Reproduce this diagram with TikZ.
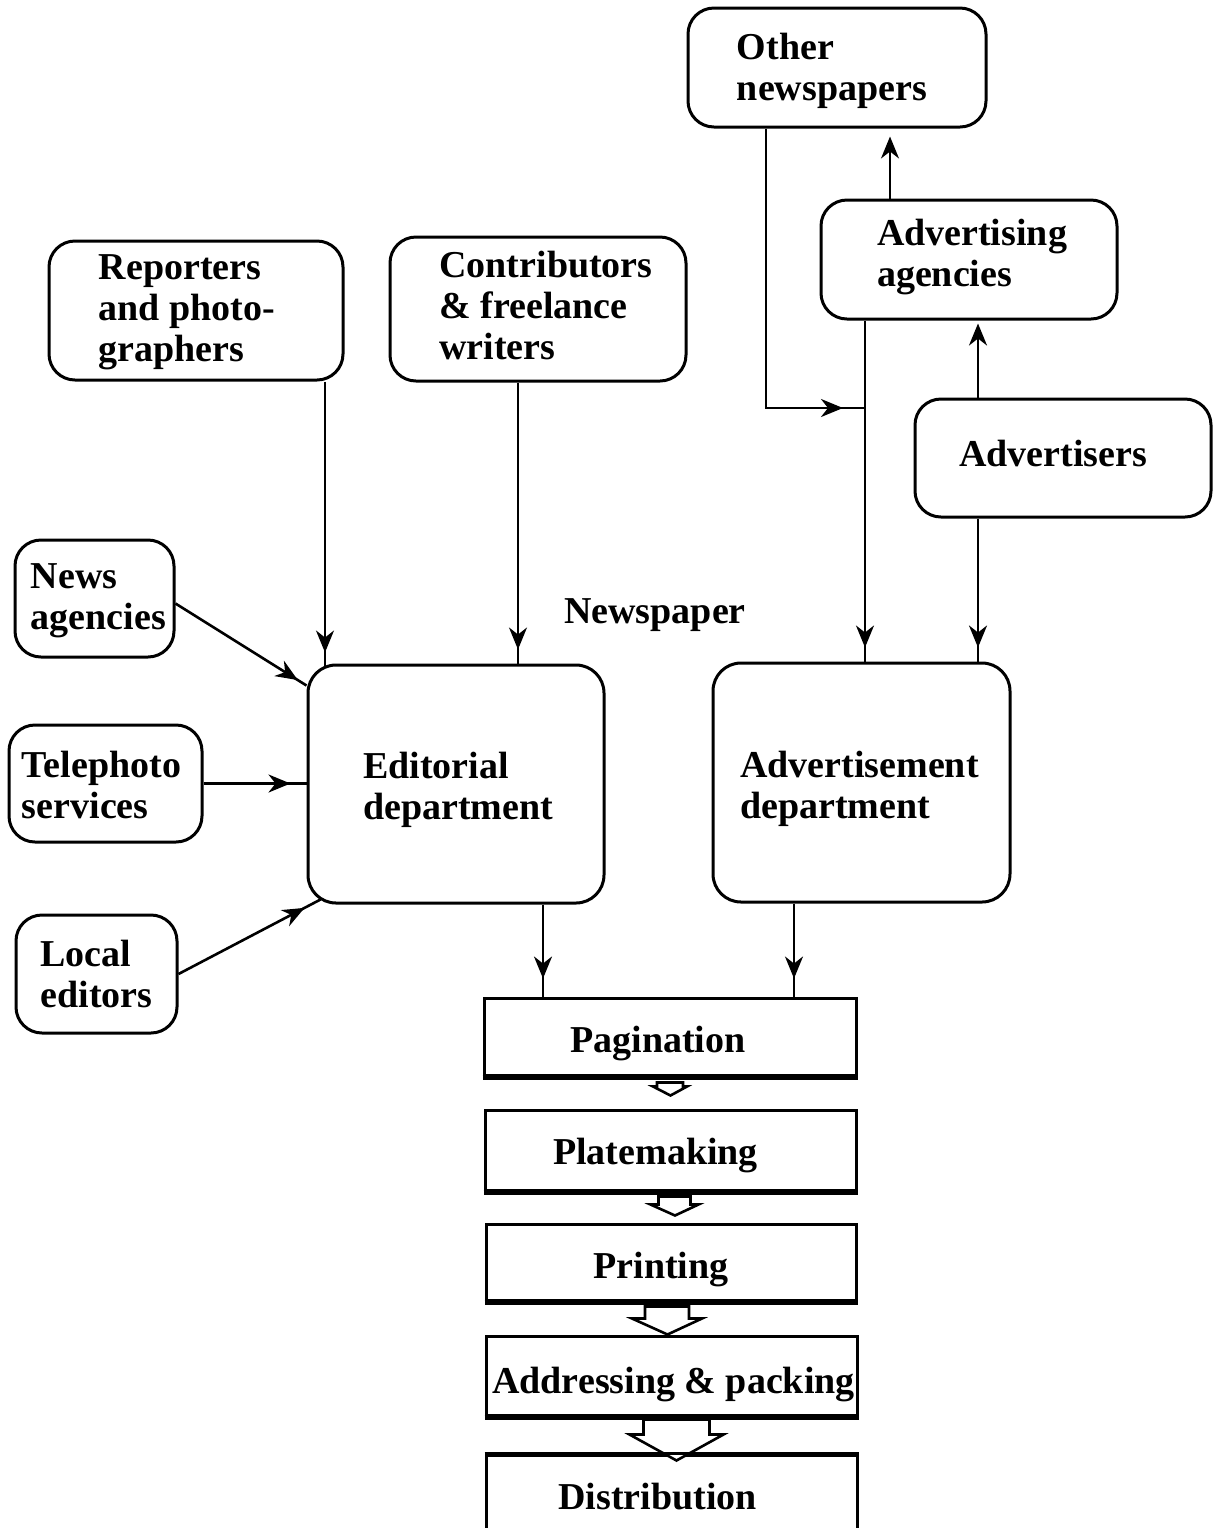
\documentclass[tikz,border=0pt]{standalone}
\usepackage{fontspec}
\setmainfont{Liberation Serif}
\usetikzlibrary{arrows.meta,calc,decorations.markings}

% hollow block arrow between two stacked boxes:
% #1 from, #2 to, #3 x offset, #4 shaft half width, #5 head half width,
% #6 top below #1.south, #7 head start below #1.south, #8 tip relative to #2.north
\newcommand\hollowarrow[8]{%
  \draw[hollowarr] ($(#1.south)+(#3-#4,#6)$) -- ($(#1.south)+(#3-#4,#7)$)
    -- ($(#1.south)+(#3-#5,#7)$) -- ($(#2.north)+(#3,#8)$)
    -- ($(#1.south)+(#3+#5,#7)$) -- ($(#1.south)+(#3+#4,#7)$)
    -- ($(#1.south)+(#3+#4,#6)$) -- cycle;}

\begin{document}
\begin{tikzpicture}[x=0.5pt,y=-0.5pt,
  lbl/.style={font=\bfseries\fontsize{19}{20.5}\selectfont, align=left, inner sep=0pt},
  rbox/.style={draw, line width=1.5pt, rounded corners=13pt, inner sep=0pt},
  bigbox/.style={rbox, rounded corners=14pt},
  sbox/.style={draw, line width=1.5pt, inner sep=0pt},
  endtip/.style={-{Stealth[length=11pt,width=9pt,inset=3.5pt]}},
  flow/.style={line width=1.3pt, postaction={decorate},
    decoration={markings, mark=at position -#1 with {\arrow{Stealth[length=11pt,width=9pt,inset=3.5pt]}}}},
  flow/.default=7pt,
  hollowarr/.style={draw, fill=white, line width=1.3pt, line join=miter}]

\useasboundingbox (0,0) rectangle (1216,1528);

% sources on the top right
\node[rbox, minimum width=149pt, minimum height=59.5pt] (othr) at (837,67.5) {};
\node[rbox, minimum width=148pt, minimum height=59.5pt] (agcy) at (969,259.5) {};
\node[rbox, minimum width=148pt, minimum height=59pt] (advr) at (1063,458) {};

% sources of editorial content
\node[rbox, minimum width=147pt, minimum height=69.5pt] (rep) at (196,310.5) {};
\node[rbox, minimum width=148pt, minimum height=72pt] (con) at (538,309) {};
\node[rbox, minimum width=79.5pt, minimum height=58.5pt] (news) at (94.5,598.5) {};
\node[rbox, minimum width=96.5pt, minimum height=58.5pt] (tele) at (105.5,783.5) {};
\node[rbox, minimum width=80.5pt, minimum height=59pt] (loc) at (96.5,974) {};

% the newspaper
\node[bigbox, minimum width=148pt, minimum height=119pt] (edit) at (456,784) {};
\node[bigbox, minimum width=148.5pt, minimum height=119.5pt] (adv) at (861.5,782.5) {};

% production chain
\node[sbox, minimum width=186pt, minimum height=38.5pt] (pag) at (670,1036.5) {};
\node[sbox, minimum width=185.5pt, minimum height=40pt] (plate) at (670.5,1150) {};
\node[sbox, minimum width=185pt, minimum height=38pt] (print) at (671,1262) {};
\node[sbox, minimum width=185.5pt, minimum height=39.5pt] (addr) at (671.5,1375.5) {};
\node[sbox, minimum width=185.5pt, minimum height=40pt] (dist) at (671.5,1495) {};

% box texts
\node[lbl] (othrT) at ($(othr.center)+(-5,3.5)$) {Other\\newspapers};
\node[lbl] (agcyT) at ($(agcy.center)+(3,-2.5)$) {Advertising\\agencies};
\node[lbl] (advrT) at ($(advr.center)+(-10,-5)$) {Advertisers};
\node[lbl] (repT) at ($(rep.center)+(-9,1.5)$) {Reporters\\and photo-\\graphers};
\node[lbl] (conT) at ($(con.center)+(8,-4)$) {Contributors\\\& freelance\\writers};
\node[lbl] (newsT) at ($(news.center)+(4,2.5)$) {News\\agencies};
\node[lbl] (teleT) at ($(tele.center)+(-4,1.5)$) {Telephoto\\services};
\node[lbl] (locT) at ($(loc.center)+(0,0)$) {Local\\editors};
\node[lbl] (editT) at ($(edit.center)+(2,6)$) {Editorial\\department};
\node[lbl] (advT) at ($(adv.center)+(-2,6)$) {Advertisement\\department};
\node[lbl] (npl) at (655,615) {Newspaper};
\node[lbl] (pagT) at ($(pag.center)+(-12,7)$) {Pagination};
\node[lbl] (plateT) at ($(plate.center)+(-15,5)$) {Platemaking};
\node[lbl] (printT) at ($(print.center)+(-10,7)$) {Printing};
\node[lbl] (addrT) at ($(addr.center)+(2,9)$) {Addressing \& packing};
\node[lbl] (distT) at ($(dist.center)+(-14,2)$) {Distribution};

% heavier lower edges of the production boxes
\foreach \b in {pag,plate,print,addr}
  \draw[line width=2.6pt] ($(\b.south west)+(0,1)$) -- ($(\b.south east)+(0,1)$);

% x positions of the vertical connectors
\coordinate (xr) at (325,0);
\coordinate (xk) at (518,0);
\coordinate (xe) at (543,0);
\coordinate (xd) at (794,0);
\coordinate (xo) at (766,0);
\coordinate (xa) at (865,0);
\coordinate (xb) at (890,0);
\coordinate (xc) at (978,0);
\coordinate (jn) at (865,408);

% editorial inputs
\draw[flow=7pt, line width=1pt] (rep.south -| xr) -- ($(edit.north -| xr)+(0,3)$);
\draw[flow=7pt, line width=1pt] (con.south -| xk) -- (edit.north -| xk);
\draw[flow=5pt] ($(news.east)+(0,5)$) -- ($(edit.north west)+(0,22)$);
\draw[flow=8pt] (tele.east) -- (edit.west |- tele.east);
\draw[flow=9pt] (loc.east) -- ($(edit.south west)+(14,-5)$);

% advertising inputs
\draw[flow=11pt] (othr.south -| xo) |- (jn);
\draw[flow=7pt, line width=1.1pt] (agcy.south -| xa) -- (adv.north -| xa);
\draw[endtip, line width=1.1pt, shorten >=4pt] (agcy.north -| xb) -- (othr.south -| xb);
\draw[endtip, line width=1.4pt, shorten >=1.5pt] (advr.north -| xc) -- (agcy.south -| xc);
\draw[flow=7pt, line width=1.4pt] (advr.south -| xc) -- (adv.north -| xc);

% departments to pagination
\draw[flow=9pt, line width=1.4pt] (edit.south -| xe) -- (pag.north -| xe);
\draw[flow=9pt, line width=1.2pt] (adv.south -| xd) -- (pag.north -| xd);

% block arrows down the production chain
\hollowarrow{pag}{plate}{0}{13}{17}{6}{10}{-13}
\hollowarrow{plate}{print}{4}{16}{24}{5}{13}{-7}
\hollowarrow{print}{addr}{-4}{22}{35}{5}{17}{0}
\hollowarrow{addr}{dist}{5}{33}{47}{3}{18}{7}
\draw[line width=1.5pt] (dist.north west) -- (dist.north east);

\end{tikzpicture}
\end{document}
